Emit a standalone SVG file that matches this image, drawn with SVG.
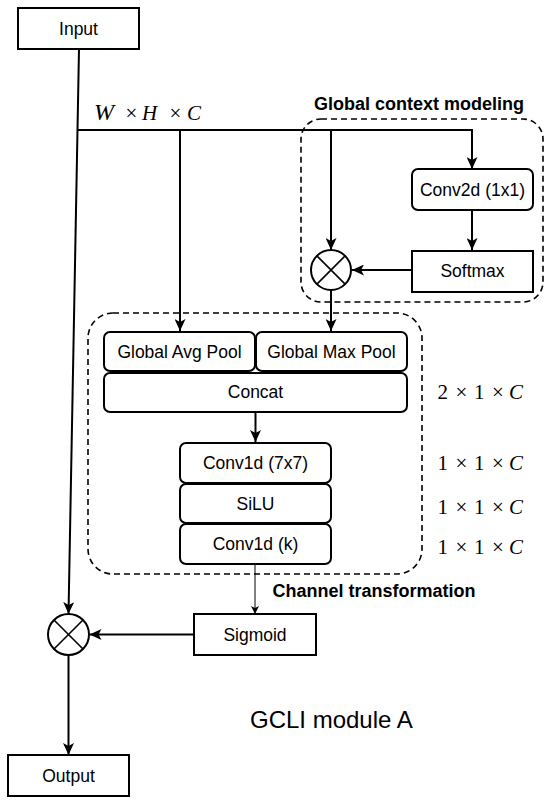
<svg xmlns="http://www.w3.org/2000/svg" width="550" height="801" viewBox="0 0 550 801">
<style>
.box{fill:#fff;stroke:#000;stroke-width:2}
.dash{fill:none;stroke:#000;stroke-width:1.6;stroke-dasharray:6 4}
.lbl{font-family:"Liberation Sans",Arial,sans-serif;font-size:17.5px;text-anchor:middle;fill:#000}
.ttl{font-family:"Liberation Sans",Arial,sans-serif;font-size:18px;font-weight:bold;text-anchor:middle;fill:#000}
.big{font-family:"Liberation Sans",Arial,sans-serif;font-size:24px;fill:#000}
.math{font-family:"Liberation Serif","Times New Roman",serif;font-size:21px;fill:#000}
.it{font-style:italic}
.ln{fill:none;stroke:#000;stroke-width:2}
.thin{fill:none;stroke:#000;stroke-width:1}
.op{fill:#fff;stroke:#000;stroke-width:2}
</style>
<defs>
<marker id="arr" markerUnits="userSpaceOnUse" markerWidth="13" markerHeight="11" refX="12" refY="5.5" orient="auto">
<path d="M0,0 L12,5.5 L0,11 L3,5.5 z" fill="#000"/>
</marker>
<marker id="arrs" markerUnits="userSpaceOnUse" markerWidth="9" markerHeight="8" refX="8" refY="4" orient="auto">
<path d="M0,0 L8,4 L0,8 L2,4 z" fill="#000"/>
</marker>
</defs>

<g id="group-global-context">
<rect class="dash" x="301" y="119" width="242" height="183" rx="20"/>
<text class="ttl" x="419" y="110">Global context modeling</text>
</g>
<g id="group-channel-transformation">
<rect class="dash" x="88" y="313" width="334" height="261" rx="25"/>
<text class="ttl" x="374" y="597">Channel transformation</text>
</g>

<g id="connectors">
<path class="ln" d="M79,49 L68.5,614" marker-end="url(#arr)"/>
<path class="ln" d="M77.6,130 H472 V169" marker-end="url(#arr)"/>
<path class="ln" d="M180,130 V331" marker-end="url(#arr)"/>
<path class="ln" d="M331,130 V250" marker-end="url(#arr)"/>
<path class="ln" d="M472,210 V250" marker-end="url(#arr)"/>
<path class="ln" d="M412,270 H352" marker-end="url(#arr)"/>
<path class="ln" d="M331,290 V331" marker-end="url(#arr)"/>
<path class="ln" d="M255.5,412 V442" marker-end="url(#arr)"/>
<path class="thin" d="M255,564 V614" marker-end="url(#arrs)"/>
<path class="ln" d="M194,634.5 H89.5" marker-end="url(#arr)"/>
<path class="ln" d="M68.5,655 V755" marker-end="url(#arr)"/>
</g>

<g id="node-input">
<rect class="box" x="18" y="8" width="121" height="41"/>
<text class="lbl" x="78.5" y="34.8">Input</text>
</g>
<g id="node-conv2d">
<rect class="box" x="412" y="169" width="121" height="41" rx="6"/>
<text class="lbl" x="472.5" y="195.8">Conv2d (1x1)</text>
</g>
<g id="node-softmax">
<rect class="box" x="412" y="251" width="121" height="41"/>
<text class="lbl" x="472.5" y="277.3">Softmax</text>
</g>
<g id="node-mult1">
<circle class="op" cx="331" cy="270" r="20"/>
<path class="thin" style="stroke-width:1.6" d="M316.9,255.9 L345.1,284.1 M345.1,255.9 L316.9,284.1"/>
</g>
<g id="node-avgpool">
<rect class="box" x="104" y="332" width="151" height="39" rx="6"/>
<text class="lbl" x="179.5" y="357.8">Global Avg Pool</text>
</g>
<g id="node-maxpool">
<rect class="box" x="256" y="332" width="151" height="39" rx="6"/>
<text class="lbl" x="331.5" y="357.8">Global Max Pool</text>
</g>
<g id="node-concat">
<rect class="box" x="104" y="373" width="303" height="39" rx="6"/>
<text class="lbl" x="255.5" y="398.3">Concat</text>
</g>
<g id="node-conv1d-7">
<rect class="box" x="180" y="443" width="151" height="40" rx="6"/>
<text class="lbl" x="255.5" y="468.8">Conv1d (7x7)</text>
</g>
<g id="node-silu">
<rect class="box" x="180" y="484" width="151" height="39" rx="6"/>
<text class="lbl" x="255.5" y="509.8">SiLU</text>
</g>
<g id="node-conv1d-k">
<rect class="box" x="180" y="524" width="151" height="40" rx="6"/>
<text class="lbl" x="255.5" y="550.3">Conv1d (k)</text>
</g>
<g id="node-sigmoid">
<rect class="box" x="194" y="614" width="122" height="41"/>
<text class="lbl" x="255" y="640.8">Sigmoid</text>
</g>
<g id="node-mult2">
<circle class="op" cx="68.5" cy="634.5" r="20.5"/>
<path class="thin" style="stroke-width:1.6" d="M54,620 L83,649 M83,620 L54,649"/>
</g>
<g id="node-output">
<rect class="box" x="8" y="755" width="121" height="41"/>
<text class="lbl" x="68.5" y="781.8">Output</text>
</g>

<g id="labels">
<text class="math" y="119.5"><tspan class="it" x="94" style="font-size:24px">W</tspan><tspan x="125.5">×</tspan><tspan class="it" x="142">H</tspan><tspan x="169.5">×</tspan><tspan class="it" x="187">C</tspan></text>
<text class="math" y="398.5"><tspan x="437.5">2</tspan><tspan x="455.5">×</tspan><tspan x="474">1</tspan><tspan x="492">×</tspan><tspan class="it" x="509">C</tspan></text>
<text class="math" y="469.5"><tspan x="437.5">1</tspan><tspan x="455.5">×</tspan><tspan x="474">1</tspan><tspan x="492">×</tspan><tspan class="it" x="509">C</tspan></text>
<text class="math" y="513.5"><tspan x="437.5">1</tspan><tspan x="455.5">×</tspan><tspan x="474">1</tspan><tspan x="492">×</tspan><tspan class="it" x="509">C</tspan></text>
<text class="math" y="553.5"><tspan x="437.5">1</tspan><tspan x="455.5">×</tspan><tspan x="474">1</tspan><tspan x="492">×</tspan><tspan class="it" x="509">C</tspan></text>
<text class="big" x="250" y="728">GCLI module A</text>
</g>
</svg>
